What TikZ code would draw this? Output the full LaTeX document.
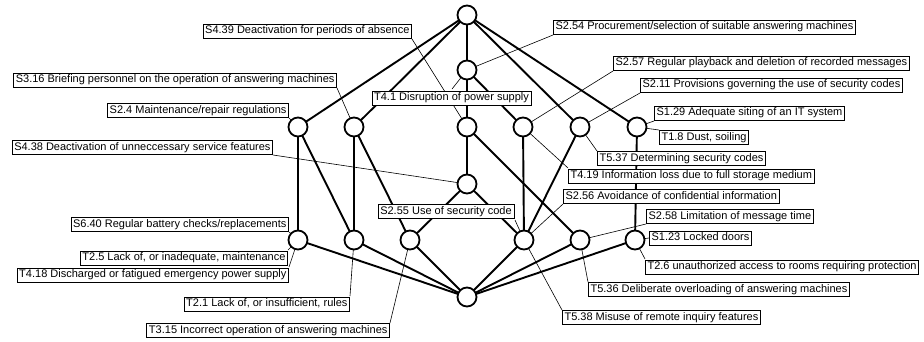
\documentclass[tikz,border=0pt]{standalone}
\usepackage{fontspec}
\setmainfont{Liberation Sans}
\begin{document}
\begin{tikzpicture}[x=1pt,y=-1pt,
  vtx/.style={circle,draw=black,fill=white,line width=1.8pt,minimum size=19pt,inner sep=0pt},
  edge/.style={line width=1.9pt},
  lead/.style={line width=0.6pt},
  lab/.style={draw=black,fill=white,line width=0.7pt,inner xsep=2.2pt,inner ysep=1.8pt,
    font=\fontsize{11}{13}\selectfont,text height=8.3pt,text depth=2.4pt},
  labl/.style={lab,anchor=east},
  labr/.style={lab,anchor=west}]
\useasboundingbox (0,0) rectangle (924,341);
% vertices (coordinates for layout)
\coordinate (p1) at (467,15);
\coordinate (p2) at (467,70);
\coordinate (p3a) at (298,127);
\coordinate (p3b) at (354,127);
\coordinate (p3c) at (467,127);
\coordinate (p3d) at (523,127);
\coordinate (p3e) at (580,127);
\coordinate (p3f) at (637,127);
\coordinate (p4) at (467,184);
\coordinate (p5a) at (298,240);
\coordinate (p5b) at (354,240);
\coordinate (p5c) at (410,240);
\coordinate (p5d) at (524,240);
\coordinate (p5e) at (580,240);
\coordinate (p5f) at (635,240);
\coordinate (p6) at (467,297);
% labels (drawn later on top, defined here with phantom boxes)
\begin{scope}[on background layer/.try]
\end{scope}
% leader lines
\path
 (412,39) coordinate (aS439)
 (553,35) coordinate (aS254)
 (452,89) coordinate (aT41)
 (337,88) coordinate (aS316)
 (289,118) coordinate (aS24)
 (273,155) coordinate (aS438)
 (289,232) coordinate (aS640)
 (288,250) coordinate (aT25)
 (289,267) coordinate (aT418)
 (350,296) coordinate (aT21)
 (390,323) coordinate (aT315)
 (515,220) coordinate (aS255)
 (613,71) coordinate (aS257)
 (640,93) coordinate (aS211)
 (654,121) coordinate (aS129)
 (659,130) coordinate (aT18)
 (597,151) coordinate (aT537)
 (568,168) coordinate (aT419)
 (563,204) coordinate (aS256)
 (646,224) coordinate (aS258)
 (649,238) coordinate (aS123)
 (645,259) coordinate (aT26)
 (588,282) coordinate (aT536)
 (562,310) coordinate (aT538);
\draw[lead] (aS439) -- (p3c);
\draw[lead] (aS254) -- (p2);
\draw[lead] (aT41) -- (p2);
\draw[lead] (aS316) -- (p3b);
\draw[lead] (aS24) -- (p3a);
\draw[lead] (aS438) -- (p4);
\draw[lead] (aS640) -- (p5a);
\draw[lead] (aT25) -- (p5a);
\draw[lead] (aT418) -- (p5a);
\draw[lead] (aT21) -- (p5b);
\draw[lead] (aT315) -- (p5c);
\draw[lead] (aS255) -- (p5d);
\draw[lead] (aS257) -- (p3d);
\draw[lead] (aS211) -- (p3e);
\draw[lead] (aS129) -- (p3f);
\draw[lead] (aT18) -- (p3f);
\draw[lead] (aT537) -- (p3e);
\draw[lead] (aT419) -- (p3d);
\draw[lead] (aS256) -- (p5d);
\draw[lead] (aS258) -- (p5e);
\draw[lead] (aS123) -- (p5f);
\draw[lead] (aT26) -- (p5f);
\draw[lead] (aT536) -- (p5e);
\draw[lead] (aT538) -- (p5d);
% edges
\draw[edge] (p1) -- (p3a);
\draw[edge] (p1) -- (p3b);
\draw[edge] (p1) -- (p2);
\draw[edge] (p1) -- (p3e);
\draw[edge] (p1) -- (p3f);
\draw[edge] (p2) -- (p3c);
\draw[edge] (p2) -- (p3d);
\draw[edge] (p3a) -- (p5a);
\draw[edge] (p3a) -- (p5b);
\draw[edge] (p3b) -- (p5b);
\draw[edge] (p3b) -- (p5c);
\draw[edge] (p3c) -- (p4);
\draw[edge] (p3c) -- (p5e);
\draw[edge] (p3d) -- (p5d);
\draw[edge] (p3e) -- (p5d);
\draw[edge] (p3f) -- (p5f);
\draw[edge] (p4) -- (p5c);
\draw[edge] (p4) -- (p5d);
\foreach \q in {p5a,p5b,p5c,p5d,p5e,p5f} \draw[edge] (\q) -- (p6);
% vertex circles
\foreach \q in {p1,p2,p3a,p3b,p3c,p3d,p3e,p3f,p4,p5a,p5b,p5c,p5d,p5e,p5f,p6}
  \node[vtx] (n\q) at (\q) {};
% labels
\node[labl] (S439) at (412,31) {S4.39 Deactivation for periods of absence};
\node[labl] (S316) at (337,80) {S3.16 Briefing personnel on the operation of answering machines};
\node[labl] (S24) at (289,110.5) {S2.4 Maintenance/repair regulations};
\node[labl] (S438) at (273,147.5) {S4.38 Deactivation of unneccessary service features};
\node[labl] (S640) at (289,224.5) {S6.40 Regular battery checks/replacements};
\node[labl] (T25) at (288,258) {T2.5 Lack of, or inadequate, maintenance};
\node[labl] (T418) at (289,275) {T4.18 Discharged or fatigued emergency power supply};
\node[labl] (T21) at (350,304) {T2.1 Lack of, or insufficient, rules};
\node[labl] (T315) at (390,330.5) {T3.15 Incorrect operation of answering machines};
\node[lab] (T41) at (451.5,98) {T4.1 Disruption of power supply};
\node[lab] (S255) at (446,211.5) {S2.55 Use of security code};
\node[labr] (S254) at (553,27) {S2.54 Procurement/selection of suitable answering machines};
\node[labr] (S257) at (613,63) {S2.57 Regular playback and deletion of recorded messages};
\node[labr] (S211) at (640,85) {S2.11 Provisions governing the use of security codes};
\node[labr] (S129) at (654,113) {S1.29 Adequate siting of an IT system};
\node[labr] (T18) at (659,137.5) {T1.8 Dust, soiling};
\node[labr] (T537) at (597,158.5) {T5.37 Determining security codes};
\node[labr] (T419) at (568,176) {T4.19 Information loss due to full storage medium};
\node[labr] (S256) at (563,196.5) {S2.56 Avoidance of confidential information};
\node[labr] (S258) at (646,216.5) {S2.58 Limitation of message time};
\node[labr] (S123) at (649,238) {S1.23 Locked doors};
\node[labr] (T26) at (645,267) {T2.6 unauthorized access to rooms requiring protection};
\node[labr] (T536) at (588,289.5) {T5.36 Deliberate overloading of answering machines};
\node[labr] (T538) at (562,317.5) {T5.38 Misuse of remote inquiry features};
\end{tikzpicture}
\end{document}
